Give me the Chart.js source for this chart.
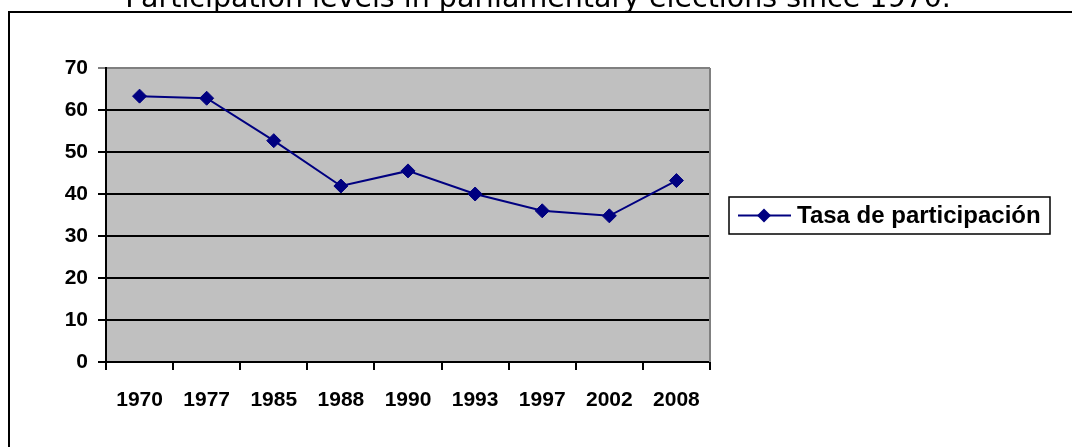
<!DOCTYPE html>
<html>
<head>
<meta charset="utf-8">
<script src="https://cdn.jsdelivr.net/npm/chart.js@4/dist/chart.umd.min.js"></script>
<style>
  html, body { margin: 0; padding: 0; background: #fff; overflow: hidden; }
  #wrap { position: absolute; left: 0; top: 0; width: 1072px; height: 447px; }
</style>
</head>
<body>
<div id="wrap"><canvas id="c" width="1072" height="447"></canvas></div>
<script>
// Turnout in parliamentary elections, one point per election year
const chartTitle = 'Participation levels in parliamentary elections since 1970.';
const years = ['1970', '1977', '1985', '1988', '1990', '1993', '1997', '2002', '2008'];
const turnout = [63.3, 62.8, 52.7, 41.9, 45.5, 40.0, 36.0, 34.8, 43.2];
const seriesName = 'Tasa de participación';
const yTicks = [0, 10, 20, 30, 40, 50, 60, 70];

const NAVY = '#000080';
const PLOT_BG = '#c0c0c0';
const FRAME_GREY = '#808080';
const TICK_FONT = { family: '"Liberation Sans", Arial, sans-serif', size: 21, weight: 'bold' };

// Page frame, title, plot background and the boxed legend
const decorations = {
  id: 'decorations',
  beforeDraw(chart) {
    const { ctx, chartArea: a } = chart;
    ctx.save();
    ctx.fillStyle = '#fff';
    ctx.fillRect(0, 0, chart.width, chart.height);
    ctx.fillStyle = PLOT_BG;
    ctx.fillRect(a.left, a.top, a.right - a.left, a.bottom - a.top);

    ctx.strokeStyle = '#000';
    ctx.lineWidth = 2;
    ctx.beginPath();
    ctx.moveTo(9, chart.height + 5);
    ctx.lineTo(9, 12);
    ctx.lineTo(chart.width + 5, 12);
    ctx.stroke();

    ctx.fillStyle = '#000';
    ctx.font = '28.5px "DejaVu Sans", Verdana, sans-serif';
    ctx.textAlign = 'center';
    ctx.textBaseline = 'alphabetic';
    ctx.fillText(chartTitle, 538, 7);
    ctx.restore();
  },
  beforeDatasetsDraw(chart) {
    const { ctx, chartArea: a } = chart;
    ctx.save();
    ctx.strokeStyle = FRAME_GREY;
    ctx.lineWidth = 2;
    ctx.beginPath();
    ctx.moveTo(a.right, a.top);
    ctx.lineTo(a.right, a.bottom);
    ctx.stroke();
    ctx.restore();
  },
  afterDraw(chart) {
    const { ctx } = chart;
    const ds = chart.data.datasets[0];
    const box = { x: 729, y: 197, w: 321, h: 37 };
    const cy = box.y + box.h / 2;
    ctx.save();
    ctx.strokeStyle = '#000';
    ctx.lineWidth = 1.5;
    ctx.strokeRect(box.x, box.y, box.w, box.h);

    ctx.strokeStyle = ds.borderColor;
    ctx.lineWidth = ds.borderWidth;
    ctx.beginPath();
    ctx.moveTo(box.x + 9, cy);
    ctx.lineTo(box.x + 62, cy);
    ctx.stroke();
    ctx.fillStyle = ds.pointBackgroundColor;
    ctx.strokeStyle = ds.pointBorderColor;
    ctx.lineWidth = ds.pointBorderWidth;
    Chart.helpers.drawPoint(ctx, { pointStyle: ds.pointStyle, radius: ds.pointRadius, rotation: 0 }, box.x + 35, cy);

    ctx.fillStyle = '#000';
    ctx.font = 'bold 24px "Liberation Sans", Arial, sans-serif';
    ctx.textAlign = 'left';
    ctx.textBaseline = 'middle';
    ctx.fillText(ds.label, box.x + 68, cy + 1);
    ctx.restore();
  }
};

new Chart(document.getElementById('c'), {
  type: 'line',
  data: {
    labels: years,
    datasets: [{
      label: seriesName,
      data: turnout,
      borderColor: NAVY,
      borderWidth: 2,
      pointStyle: 'rectRot',
      pointRadius: 7,
      pointBackgroundColor: NAVY,
      pointBorderColor: NAVY,
      pointBorderWidth: 1,
      tension: 0,
      fill: false
    }]
  },
  options: {
    responsive: false,
    animation: false,
    devicePixelRatio: 1,
    layout: { padding: { left: 0, top: 68, right: 362, bottom: 0 } },
    plugins: { legend: { display: false }, title: { display: false }, tooltip: { enabled: false } },
    scales: {
      x: {
        offset: true,
        grid: { display: true, drawOnChartArea: false, offset: true, color: '#000', lineWidth: 2, tickLength: 8 },
        border: { display: true, color: '#000', width: 2 },
        ticks: { color: '#000', font: TICK_FONT, padding: 18, maxRotation: 0, autoSkip: false },
        afterFit(scale) { scale.height = 85; }
      },
      y: {
        min: yTicks[0],
        max: yTicks[yTicks.length - 1],
        ticks: { stepSize: yTicks[1] - yTicks[0], color: '#000', font: TICK_FONT, padding: 10 },
        grid: {
          color: (c) => (c.tick && c.tick.value === yTicks[yTicks.length - 1] ? FRAME_GREY : '#000'),
          lineWidth: 2,
          tickLength: 8
        },
        border: { display: true, color: '#000', width: 2 },
        afterFit(scale) { scale.width = 106; }
      }
    }
  },
  plugins: [decorations]
});
</script>
</body>
</html>
